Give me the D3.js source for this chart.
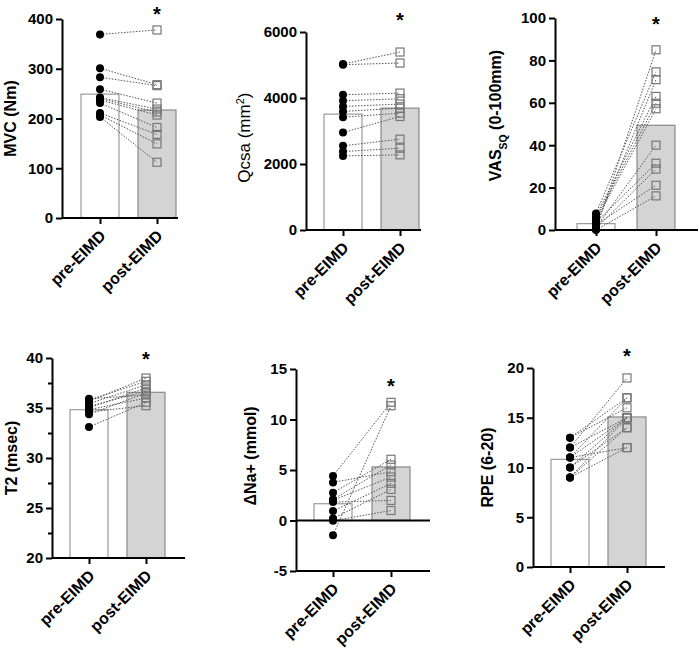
<!DOCTYPE html>
<html>
<head>
<meta charset="utf-8">
<script src="https://cdn.jsdelivr.net/npm/d3@7"></script>
<style>
  body { margin: 0; background: #fff; }
  svg { font-family: "Liberation Sans", Arial, sans-serif; }
  .axis path, .axis line { stroke: #000; stroke-width: 2px; }
  .axis text { font-size: 15px; font-weight: bold; fill: #000; }
</style>
</head>
<body>
<div id="chart"></div>
<script>
// groups on the x axis
const groups = ["pre-EIMD", "post-EIMD"];

// MVC (Nm)
const mvcPre  = [369, 301, 283, 259, 242, 240, 237, 231, 211, 207, 203];
const mvcPost = [378, 268, 266, 231, 219, 213, 207, 182, 168, 149, 112];
const mvcMean = [249, 217];

// Qcsa (mm2)
const qcsaPre  = [5029, 5010, 4098, 3916, 3744, 3592, 3420, 2954, 2550, 2378, 2246];
const qcsaPost = [5393, 5059, 4149, 3977, 3815, 3693, 3541, 3440, 2752, 2479, 2277];
const qcsaMean = [3511, 3693];

// VAS sq (0-100mm)
const vasPre  = [0.3, 7.8, 2, 6.5, 5.5, 4.5, 1.2, 3.5, 0.8, 2.5, 0];
const vasPost = [85, 74.6, 70.9, 63, 59.8, 57.2, 40, 31.5, 28.7, 21.1, 16.1];
const vasMean = [3.0, 49.4];

// T2 (msec)
const t2Pre  = [35.93, 35.8, 35.67, 35.43, 35.17, 35.0, 34.83, 34.6, 34.37, 33.1];
const t2Post = [36.3, 37.67, 38.0, 37.33, 36.67, 37.0, 36.0, 35.23, 36.5, 35.57];
const t2Mean = [34.83, 36.57];

// delta Na+ (mmol)
const naPre  = [4.4, -1.46, 3.77, 2.75, 2.09, 2.0, 1.82, 0.93, 0.2, -0.03];
const naPost = [11.7, 11.36, 4.83, 6.06, 5.5, 4.3, 1.99, 3.68, 3.08, 0.99];
const naMean = [1.66, 5.3];

// RPE (6-20)
const rpePre  = [13, 13, 12, 12, 11, 11, 10, 9, 9, 9, 11, 10];
const rpePost = [16, 17, 19, 15, 15, 17, 14, 15, 14, 12, 12, 15];
const rpeMean = [10.82, 15.08];

const width = 699, height = 650;

let svg = d3.select("#chart")
     .append("svg")
     .attr("width", width)
     .attr("height", height);

// one panel = one paired bar chart
function drawPanel(p) {
     let g = svg.append("g");

     let y = d3.scaleLinear()
          .domain(p.domain)
          .range([p.bottom, p.top]);
     let x = d3.scalePoint()
          .domain(groups)
          .range([p.left + p.offset, p.left + p.offset + p.step]);
     let barW = 38;
     let base = y(Math.max(p.domain[0], 0));

     // bars (means)
     g.selectAll(".bar")
          .data(groups)
          .enter()
          .append("rect")
            .attr("x", function(d) { return x(d) - barW / 2; })
            .attr("y", function(d, i) { return Math.min(y(p.mean[i]), base); })
            .attr("width", barW)
            .attr("height", function(d, i) { return Math.abs(base - y(p.mean[i])); })
            .attr("fill", function(d, i) { return i == 0 ? "#fff" : "#d4d4d4"; })
            .attr("stroke", function(d, i) { return i == 0 ? "#9a9a9a" : "#8a8a8a"; })
            .attr("stroke-width", 1.2);

     // paired lines
     g.selectAll(".pair")
          .data(p.pre)
          .enter()
          .append("line")
            .attr("x1", x(groups[0]))
            .attr("y1", function(d) { return y(d); })
            .attr("x2", x(groups[1]))
            .attr("y2", function(d, i) { return y(p.post[i]); })
            .attr("stroke", "#555")
            .attr("stroke-width", 1)
            .attr("stroke-dasharray", "1.5,1.5");

     // pre: filled circles
     g.selectAll(".pre")
          .data(p.pre)
          .enter()
          .append("circle")
            .attr("cx", x(groups[0]))
            .attr("cy", function(d) { return y(d); })
            .attr("r", 4)
            .attr("fill", "#000");

     // post: open squares
     g.selectAll(".post")
          .data(p.post)
          .enter()
          .append("rect")
            .attr("x", x(groups[1]) - 4)
            .attr("y", function(d) { return y(d) - 4; })
            .attr("width", 8)
            .attr("height", 8)
            .attr("fill", "none")
            .attr("stroke", "#777")
            .attr("stroke-width", 1.2);

     // y axis
     g.append("g")
          .attr("class", "axis")
          .attr("transform", "translate(" + p.left + ",0)")
          .call(d3.axisLeft(y).tickValues(p.ticks).tickSize(6).tickSizeOuter(0).tickPadding(3)
               .tickFormat(function(d) { return String(d); }));

     if (p.minor) {
          g.append("g")
               .attr("class", "axis")
               .attr("transform", "translate(" + p.left + ",0)")
               .call(d3.axisLeft(y).tickValues(p.minor).tickSize(4).tickFormat(""))
               .select(".domain").remove();
     }

     // x axis at bottom
     let xAxis = g.append("g")
          .attr("class", "axis")
          .attr("transform", "translate(0," + p.bottom + ")")
          .call(d3.axisBottom(x).tickSize(6).tickSizeOuter(0).tickPadding(4));
     xAxis.select(".domain")
          .attr("d", "M" + p.left + ",0H" + p.xEnd);
     xAxis.selectAll("text")
          .style("text-anchor", "end")
          .attr("dx", "-0.57em")
          .attr("dy", "0.48em")
          .attr("transform", "rotate(-45)")
          .style("font-size", "16px");

     // zero line when the axis goes negative
     if (p.domain[0] < 0) {
          g.append("line")
               .attr("x1", p.left)
               .attr("x2", p.xEnd)
               .attr("y1", y(0))
               .attr("y2", y(0))
               .attr("stroke", "#000")
               .attr("stroke-width", 2);
     }

     // y label
     let label = g.append("text")
          .attr("transform", "translate(" + (p.left - p.labelGap) + "," + y(p.labelMid) + ") rotate(-90)")
          .attr("text-anchor", "middle")
          .style("font-size", p.labelSize + "px")
          .style("font-weight", p.labelBold ? "bold" : "normal");
     p.label.forEach(function(part) {
          let t = label.append("tspan").text(part.t);
          if (part.sup) t.attr("baseline-shift", "super").style("font-size", "0.65em");
          if (part.sub) t.attr("baseline-shift", "sub").style("font-size", "0.65em");
     });

     // significance star
     g.append("text")
          .attr("x", x(groups[1]))
          .attr("y", y(p.star) + 11)
          .attr("text-anchor", "middle")
          .style("font-size", "20px")
          .style("font-weight", "bold")
          .text("*");
}

drawPanel({pre: mvcPre, post: mvcPost, mean: mvcMean,
     left: 62, top: 19, bottom: 218, domain: [0, 400], ticks: [0, 100, 200, 300, 400],
     offset: 38, step: 57, xEnd: 178, star: 418,
     label: [{t: "MVC (Nm)"}], labelGap: 46, labelMid: 200, labelSize: 16, labelBold: true});

drawPanel({pre: qcsaPre, post: qcsaPost, mean: qcsaMean,
     left: 306, top: 32, bottom: 230, domain: [0, 6000], ticks: [0, 2000, 4000, 6000],
     offset: 37, step: 57, xEnd: 421, star: 6500,
     label: [{t: "Qcsa (mm"}, {t: "2", sup: true}, {t: ")"}], labelGap: 56, labelMid: 2800, labelSize: 17, labelBold: false});

drawPanel({pre: vasPre, post: vasPost, mean: vasMean,
     left: 555, top: 18, bottom: 230, domain: [0, 100], ticks: [0, 20, 40, 60, 80, 100],
     offset: 41, step: 60, xEnd: 698, star: 99,
     label: [{t: "VAS"}, {t: "SQ", sub: true}, {t: " (0-100mm)"}], labelGap: 54, labelMid: 54, labelSize: 16, labelBold: true});

drawPanel({pre: t2Pre, post: t2Post, mean: t2Mean,
     left: 52, top: 358, bottom: 558, domain: [20, 40], ticks: [20, 25, 30, 35, 40],
     minor: [22.5, 27.5, 32.5, 37.5],
     offset: 37, step: 57, xEnd: 185, star: 40.3,
     label: [{t: "T2 (msec)"}], labelGap: 35, labelMid: 30, labelSize: 16, labelBold: true});

drawPanel({pre: naPre, post: naPost, mean: naMean,
     left: 296, top: 369, bottom: 571, domain: [-5, 15], ticks: [-5, 0, 5, 10, 15],
     offset: 37, step: 58, xEnd: 430, star: 13.7,
     label: [{t: "ΔNa+ (mmol)"}], labelGap: 40, labelMid: 6.4, labelSize: 16, labelBold: true});

drawPanel({pre: rpePre, post: rpePost, mean: rpeMean,
     left: 533, top: 368, bottom: 567, domain: [0, 20], ticks: [0, 5, 10, 15, 20],
     offset: 37, step: 57, xEnd: 665, star: 21.6,
     label: [{t: "RPE (6-20)"}], labelGap: 40, labelMid: 10, labelSize: 16, labelBold: true});
</script>
</body>
</html>
